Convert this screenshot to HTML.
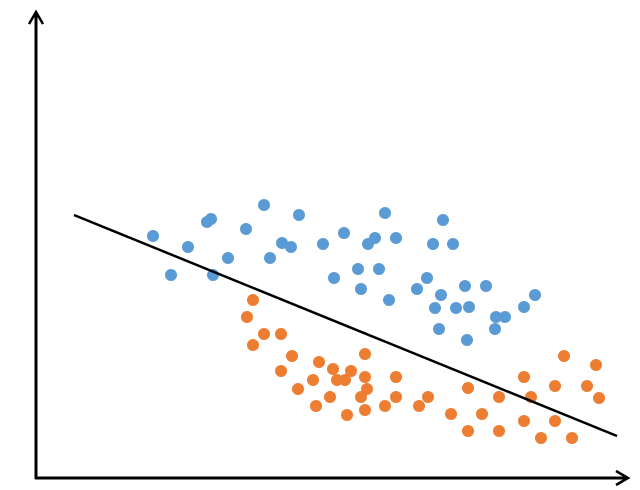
<!DOCTYPE html>
<html><head><meta charset="utf-8"><style>
html,body{margin:0;padding:0;background:#fff;width:640px;height:490px;overflow:hidden}
</style></head><body>
<svg id="chart" width="640" height="490" xmlns="http://www.w3.org/2000/svg">
<defs>
<marker id="ah" markerWidth="10" markerHeight="10" refX="5" refY="5" orient="auto" markerUnits="userSpaceOnUse"></marker>
</defs>
<g id="axes">
<line x1="36" y1="479" x2="36" y2="14" stroke="#000" stroke-width="3"/>
<polyline points="29,24 36,12 43,24" fill="none" stroke="#000" stroke-width="2.5"/>
<line x1="35" y1="478" x2="626" y2="478" stroke="#000" stroke-width="3"/>
<polyline points="616,471 628,478 616,485" fill="none" stroke="#000" stroke-width="2.5"/>
</g>
<g id="marks"></g>
</svg>
<script>
const blueX=[23.4,27,30.4,34.2,35,35.4,38.4,42,45.6,49.2,51,46.8,52.6,57.4,59.6,61.6,64.4,65,66.4,67.8,68.6,69.8,72,70.6,76.2,78.2,79.4,81.4,83.4,81,79.8,80.6,84,85.8,86.6,86.2,90,92,93.8,91.8,97.6,99.8];
const blueY=[48.4,40.6,46.2,51.2,51.8,40.6,44,49.8,54.6,47,46.2,44,52.6,46.8,40,49,41.8,37.8,46.8,48,41.8,53,48,35.6,37.8,40,46.8,51.6,46.8,36.6,34,29.8,34,38.4,34.2,27.6,38.4,32.2,32.2,29.8,34.2,36.6];
const orangeX=[43.4,42.2,45.6,49,43.4,51.2,49,56.6,59.4,63,65.8,60.2,61.8,55.4,52.4,65.8,66.2,65,58.8,56,62.2,65.8,72,72,69.8,78.4,76.6,83,86.4,86.4,89.2,92.6,92.6,97.6,97.6,99,103.8,103.8,101,105.6,107.2,110.2,112,112.6];
const orangeY=[35.6,32.2,28.8,28.8,26.6,24.4,21.4,23.2,21.8,21.4,24.8,19.6,19.6,19.6,17.8,20.2,17.8,16.2,16.2,14.4,12.6,13.6,20.2,16.2,14.4,16.2,14.4,12.8,18,9.4,12.8,16.2,9.4,20.2,11.4,16.2,18.4,11.4,8,24.4,8,18.4,22.6,16];
const lineX=[7.6,116.2];
const lineY=[52.6,8.4];
function sx(v){return 36+v*5;}
function sy(v){return 478-v*5;}
const NS="http://www.w3.org/2000/svg";
const g=document.getElementById('marks');
function dots(xs,ys,color,name){
  for(let i=0;i<xs.length;i++){
    const c=document.createElementNS(NS,'circle');
    c.setAttribute('cx',sx(xs[i]));c.setAttribute('cy',sy(ys[i]));
    c.setAttribute('r',6);c.setAttribute('fill',color);
    
    
    g.appendChild(c);
  }
}
dots(blueX,blueY,'#5b9bd5','blue-point');
dots(orangeX,orangeY,'#ed7d31','orange-point');
const l=document.createElementNS(NS,'line');
l.setAttribute('x1',sx(lineX[0]));l.setAttribute('y1',sy(lineY[0]));
l.setAttribute('x2',sx(lineX[1]));l.setAttribute('y2',sy(lineY[1]));
l.setAttribute('stroke','#000');l.setAttribute('stroke-width','2.5');


g.appendChild(l);
</script>
</body></html>
